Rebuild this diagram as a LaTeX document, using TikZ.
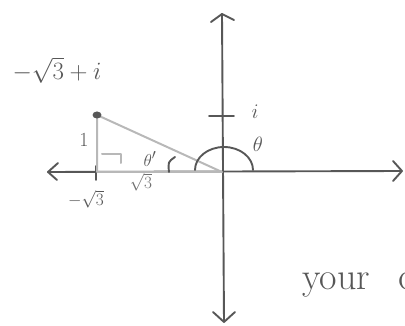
\documentclass[tikz,border=0pt]{standalone}
\begin{document}
\begin{tikzpicture}[x=1pt,y=-1pt,
  axis/.style={draw=ink,line width=1.9pt,line cap=round,line join=round},
  tri/.style={draw=light,line width=2pt,line cap=round,line join=round},
  lbl/.style={text=ink,inner sep=0pt},
  lbll/.style={text=ink!85,inner sep=0pt}]
\definecolor{ink}{HTML}{575757}
\definecolor{light}{HTML}{B8B8B8}
\useasboundingbox (0,0) rectangle (405,326);
\clip (0,0) rectangle (405,326);
\coordinate (O) at (222,172);
\coordinate (L) at (48,172);
\coordinate (R) at (402,171);
\coordinate (T) at (222,14);
\coordinate (B) at (224,322);
\coordinate (P) at (97,115);
\coordinate (F) at (97,172);
% axes
\draw[axis] (L) -- (R);
\draw[axis] (T) -- (B);
\draw[axis] (58,163) -- (L) -- (57,180);
\draw[axis] (393,161) -- (R) -- (393,181);
\draw[axis] (211,22) -- (T) -- (234,20);
\draw[axis] (213,312) -- (B) -- (235,312);
% ticks
\draw[axis] (209,116) -- (234,116);
\draw[axis] (96,166) -- (96,180);
% triangle
\draw[tri] (P) -- (F) -- (O) -- cycle;
\draw[tri] (102,154) -- (121,154) -- (121,163);
% point
\fill[ink] (P) ellipse (4.5 and 3.5);
% angles
\draw[axis] (195,170) arc (180:360:29 and 23);
\draw[axis] (175,157) .. controls (168,162) .. (169,172);
% labels
\node[lbl,font=\fontsize{26}{26}\selectfont] (z) at (57,70) {$-\sqrt{3}+i$};
\node[lbl,font=\fontsize{20}{20}\selectfont] (one) at (84,140) {1};
\node[lbl,font=\fontsize{17}{17}\selectfont] (ms) at (86,199) {$-\sqrt{3}$};
\node[lbll,font=\fontsize{17}{17}\selectfont] (s3) at (141,182) {$\sqrt{3}$};
\node[lbl,font=\fontsize{19}{19}\selectfont] (tp) at (150,159) {$\theta'$};
\node[lbl,font=\fontsize{20}{20}\selectfont] (th) at (258,144) {$\theta$};
\node[lbl,font=\fontsize{20}{20}\selectfont] (i) at (255,112) {$i$};
\node[lbl,font=\fontsize{38}{38}\selectfont,anchor=base west] (your) at (302,290) {your\hspace{0.75em}c};
\end{tikzpicture}
\end{document}
